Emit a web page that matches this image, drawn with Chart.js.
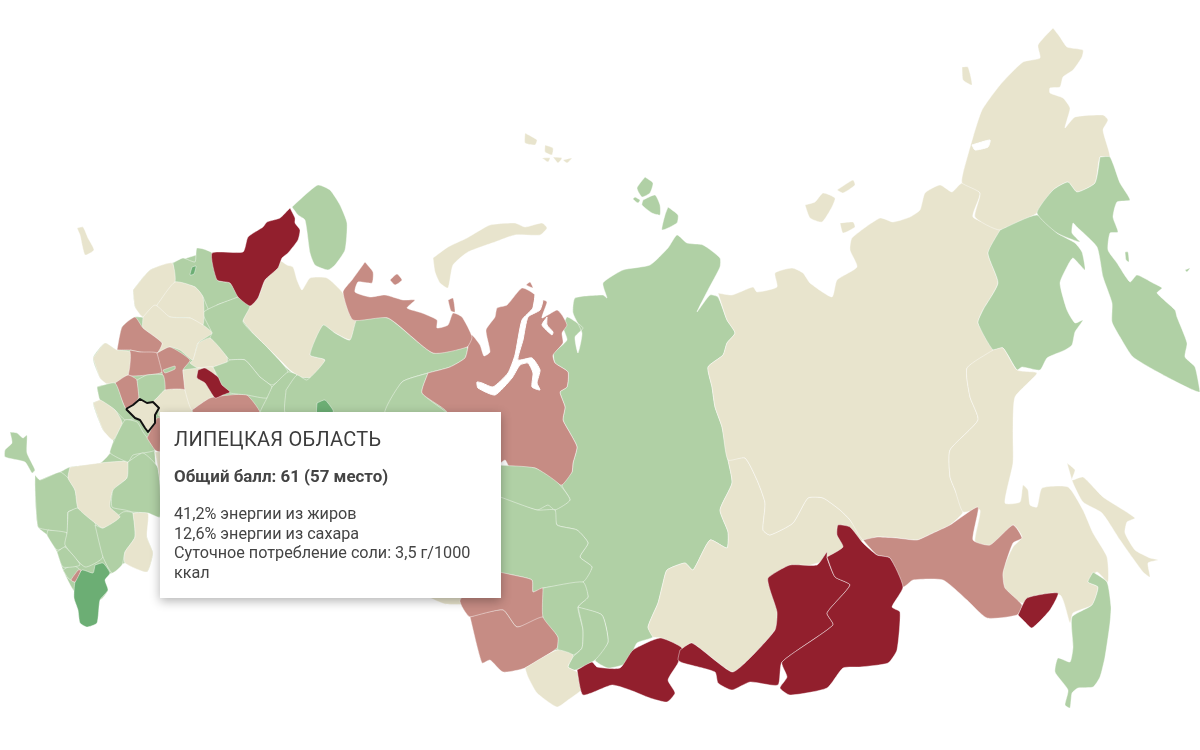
<!DOCTYPE html>
<html lang="ru"><head><meta charset="utf-8">
<script src="https://cdn.jsdelivr.net/npm/chart.js@4"></script>
<style>
html,body{margin:0;padding:0;background:#fff;width:1200px;height:750px;overflow:hidden;font-family:Roboto,sans-serif}
#wrap{position:relative;width:1200px;height:750px}
canvas{position:absolute;left:0;top:0}
#tip{position:absolute;left:160px;top:412px;width:341px;height:186px;box-sizing:border-box;background:#fff;padding:15px 14px;color:#444;box-shadow:0 3px 10px rgba(0,0,0,.3)}
#tip h3{margin:0;font-size:20px;line-height:24px;font-weight:400;color:#3c3c3c;letter-spacing:.25px}
#tip b{display:block;margin-top:15px;font-size:16.9px;line-height:20px;font-weight:700}
#tip p{margin:18px 0 0;font-size:16.2px;line-height:19.6px}
</style></head><body>
<div id="wrap"><canvas id="c" width="1200" height="750"></canvas>
<div id="tip"><h3>ЛИПЕЦКАЯ ОБЛАСТЬ</h3><b>Общий балл: 61 (57 место)</b><p>41,2% энергии из жиров<br>12,6% энергии из сахара<br>Суточное потребление соли: 3,5 г/1000 ккал</p></div></div>
<script>
// Region outlines, in map units
const westUnder=[[133,290],[150,270],[172,263],[212,253],[250,306],[243,320],[300,377],[350,340],[358,317],[388,318],[433,353],[467,347],[470,420],[160,420],[160,517],[148,513],[147,537],[153,553],[147,572],[125,563],[112,573],[103,577],[108,590],[100,600],[75,592],[63,570],[57,552],[47,535],[38,527],[35,487],[40,480],[60,472],[70,467],[100,463],[110,453],[113,440],[103,430],[93,403],[100,400],[97,387],[107,384],[100,378],[93,358],[105,343],[117,350],[122,327],[135,317],[143,317],[135,307]];
const siberiaUnder=[[495,465],[572,472],[592,567],[608,642],[595,660],[575,670],[558,650],[525,664],[495,655],[485,620],[495,590]];
const kaliningrad=[[77,228],[83,227],[88,238],[94,250],[85,255],[80,235]];
const crimea=[[10,432],[17,433],[23,438],[27,435],[27,453],[35,470],[32,473],[25,462],[5,457],[5,450],[12,443]];
const kola=[[292,207],[305,195],[318,185],[330,190],[340,205],[347,223],[345,250],[335,265],[328,270],[315,265],[310,253],[305,220],[298,215]];
const karelia=[[290,208],[295,218],[295,223],[300,230],[298,240],[288,253],[282,258],[278,268],[265,280],[258,298],[250,306],[238,297],[230,283],[217,280],[212,253],[243,252],[248,237],[263,227],[267,222],[280,218]];
const arkhangelsk=[[250,306],[258,298],[265,280],[277,267],[279,260],[287,265],[293,267],[297,280],[302,290],[310,278],[327,278],[343,293],[347,305],[358,317],[353,333],[350,340],[335,333],[323,325],[320,340],[310,355],[325,360],[313,377],[300,377],[290,370],[283,363],[267,347],[253,333],[243,320]];
const nwGreenA=[[173,263],[183,258],[195,262],[197,248],[212,253],[217,280],[230,283],[238,297],[217,305],[210,312],[203,297],[195,287],[175,282]];
const nwGreenB=[[238,297],[250,306],[243,322],[267,347],[288,372],[272,385],[260,377],[245,360],[230,360],[227,357],[210,338],[212,333],[203,313],[217,305]];
const nwLake=[[192,267],[196,266],[194,274],[190,275]];
const westBeigeA=[[133,290],[150,270],[172,263],[175,282],[157,305],[143,317],[135,307]];
const westBeigeB=[[157,305],[175,282],[195,287],[203,297],[203,325],[190,318],[170,317],[157,310]];
const westBeigeC=[[143,317],[155,305],[170,317],[190,318],[203,325],[212,333],[198,343],[193,360],[180,350],[170,347],[157,353],[162,343],[143,328]];
const westBeigeD=[[198,343],[210,338],[227,357],[227,362],[213,367],[198,368],[190,363],[193,360]];
const pinkA=[[117,350],[122,327],[135,317],[143,328],[162,343],[157,353],[140,352],[130,350]];
const pinkB=[[130,350],[140,352],[157,353],[162,372],[147,375],[128,375]];
const pinkC=[[157,353],[170,347],[190,360],[183,370],[185,390],[165,390],[162,372]];
const moscowGreen=[[163,370],[175,366],[175,369],[165,373]];
const smolensk=[[93,358],[105,343],[117,350],[130,352],[128,375],[115,383],[107,384],[100,378]];
const pinkD=[[115,383],[128,375],[137,380],[139,397],[133,405],[126,409],[123,403]];
const greenC=[[137,380],[147,375],[163,375],[165,390],[157,398],[153,402],[147,403],[140,399],[139,397]];
const greenLeft=[[97,387],[115,383],[123,403],[126,409],[135,418],[125,420],[115,410],[100,400]];
const beigeLeft=[[93,403],[100,400],[115,410],[122,423],[113,440],[103,430]];
const beigeCentre=[[157,398],[165,390],[185,390],[192,412],[190,416],[159,416],[159,408],[153,402]];
const beigeVolga=[[183,370],[198,368],[213,367],[217,378],[223,395],[210,398],[192,410],[185,390]];
const tatarstan=[[198,370],[205,368],[218,377],[222,385],[230,392],[223,395],[215,398],[205,383],[197,378]];
const pinkE=[[192,410],[210,398],[230,395],[247,395],[260,414],[195,416]];
const greenD=[[213,367],[227,362],[230,360],[245,360],[260,377],[272,387],[267,398],[247,395],[230,393],[223,388],[217,375]];
const greenE=[[272,387],[288,372],[297,375],[287,390],[287,414],[260,414],[267,398]];
const komi=[[286,390],[297,375],[307,380],[325,360],[310,355],[323,325],[335,333],[350,340],[358,317],[388,318],[433,353],[467,347],[465,358],[450,367],[428,373],[402,382],[385,414],[286,414]];
const komiSouth=[[428,373],[422,393],[447,414],[385,414],[402,382]];
const darkPatch=[[317,403],[325,400],[333,410],[333,414],[317,414]];
const nenets=[[365,262],[373,272],[372,283],[358,282],[355,292],[370,297],[385,295],[403,300],[415,300],[407,308],[422,313],[437,320],[437,328],[448,325],[453,313],[462,317],[472,337],[467,347],[433,353],[388,318],[353,320],[343,292],[352,280]];
const nenetsIsle=[[390,280],[397,274],[402,280],[395,285]];
const vaygach=[[448,300],[453,298],[455,312],[451,311]];
const yamal=[[428,373],[450,367],[465,358],[468,347],[468,337],[472,335],[480,345],[484,356],[490,352],[486,330],[495,317],[497,308],[507,305],[522,288],[535,295],[533,308],[543,300],[547,302],[542,318],[557,310],[562,315],[567,325],[562,333],[563,343],[553,355],[555,363],[568,372],[567,387],[560,392],[565,407],[563,420],[570,433],[577,447],[573,463],[572,472],[562,485],[555,482],[543,473],[535,468],[510,468],[505,460],[490,470],[440,430],[447,412],[422,393]];
const yamalIsle=[[526,285],[530,282],[533,288]];
const obGulf=[[535,295],[543,298],[540,310],[528,317],[523,340],[518,360],[532,358],[540,370],[537,383],[540,390],[532,387],[533,373],[528,363],[520,365],[512,378],[495,395],[478,388],[477,382],[482,383],[493,387],[508,373],[515,355],[522,320],[533,308]];
const tazInlet=[[547,317],[542,325],[552,335],[553,332],[547,325]];
const novayaZemlya=[[433,258],[448,247],[467,238],[490,225],[515,223],[525,227],[542,223],[547,228],[540,235],[515,235],[495,242],[468,252],[453,265],[448,288],[440,283],[435,272]];
const franzJosefA=[[525,133],[537,140],[535,145],[525,143]];
const franzJosefB=[[545,145],[553,148],[552,155],[545,152]];
const franzJosefC=[[542,158],[550,158],[548,162]];
const franzJosefD=[[553,157],[562,158],[558,163]];
const franzJosefE=[[563,160],[572,158],[567,163]];
const severnayaA=[[645,177],[653,183],[650,193],[642,197],[637,188]];
const severnayaB=[[643,200],[655,195],[660,205],[660,215],[652,213],[642,205]];
const severnayaC=[[668,207],[678,215],[677,223],[662,230],[665,215]];
const severnayaD=[[635,197],[640,200],[638,203],[633,199]];
const krasnoyarsk=[[553,353],[567,340],[563,327],[567,317],[573,320],[583,328],[575,337],[578,353],[582,333],[573,313],[575,298],[603,295],[607,298],[603,283],[623,270],[650,265],[668,248],[677,235],[687,243],[703,245],[720,258],[720,267],[708,290],[697,312],[710,295],[718,297],[727,320],[735,333],[727,343],[723,355],[708,367],[712,387],[715,407],[722,427],[728,460],[732,483],[720,510],[728,532],[727,548],[710,540],[693,570],[685,563],[667,570],[663,583],[658,603],[648,627],[653,637],[637,643],[627,663],[608,668],[595,660],[608,642],[602,615],[578,607],[588,597],[583,582],[592,567],[580,557],[588,543],[577,530],[557,525],[555,510],[570,500],[562,485],[572,472],[573,463],[577,447],[570,433],[563,420],[565,407],[560,392],[567,387],[568,372],[555,363]];
const tomsk=[[495,465],[535,468],[558,483],[570,500],[555,510],[548,505],[537,510],[495,495]];
const novosibirsk=[[495,495],[537,510],[555,510],[557,525],[577,530],[588,543],[580,557],[592,567],[583,582],[543,588],[533,592],[532,580],[513,575],[490,570]];
const omskPink=[[490,570],[513,575],[532,580],[533,592],[543,588],[543,617],[517,627],[503,610],[470,617],[460,600]];
const altaiPink=[[470,617],[482,663],[490,660],[503,672],[525,668],[557,648],[558,637],[543,617],[517,627],[503,610]];
const altaiGreen=[[543,588],[583,582],[588,597],[578,607],[583,630],[582,648],[573,655],[558,650],[558,637],[543,617]];
const tuvaGreen=[[578,607],[602,615],[608,642],[595,660],[575,670],[568,667],[573,657],[582,648],[583,630]];
const kazakhBeige=[[525,668],[557,650],[573,655],[568,667],[577,672],[583,688],[568,700],[557,707],[537,693],[528,677]];
const sliverBeige=[[428,597],[462,597],[468,604],[445,604]];
const tuva=[[577,670],[592,662],[597,667],[620,668],[633,650],[660,638],[682,648],[678,663],[668,680],[675,693],[667,702],[650,698],[630,690],[612,685],[583,695]];
const irkutskBeige=[[728,460],[745,458],[757,480],[765,503],[763,530],[770,535],[793,523],[808,498],[823,498],[840,510],[850,520],[863,540],[850,545],[827,560],[800,570],[775,630],[750,658],[732,672],[692,643],[680,650],[660,638],[653,637],[648,627],[658,603],[663,583],[667,570],[685,563],[693,570],[710,540],[727,548],[728,532],[720,510],[732,483]];
const buryatiaWest=[[680,650],[692,643],[732,672],[750,658],[775,630],[777,612],[770,590],[768,578],[790,565],[817,565],[827,552],[827,558],[835,577],[850,585],[827,613],[833,625],[782,662],[778,685],[750,682],[732,690],[718,683],[715,672],[683,663],[678,660]];
const buryatiaEast=[[827,557],[843,547],[837,535],[838,525],[850,527],[863,543],[877,555],[890,558],[903,587],[892,607],[900,612],[897,650],[888,663],[860,667],[843,668],[827,688],[790,695],[780,688],[787,677],[782,662],[833,625],[827,613],[850,585],[835,577]];
const zabaykalye=[[863,540],[877,537],[897,538],[917,540],[933,533],[950,525],[978,507],[973,540],[990,545],[1013,525],[1022,538],[1013,543],[1003,573],[1005,588],[1022,605],[1017,615],[987,618],[967,600],[943,580],[913,580],[903,587],[890,558],[877,555]];
const birobidzhan=[[1018,615],[1027,598],[1058,593],[1050,610],[1032,628],[1025,622]];
const yakutia=[[718,293],[732,295],[753,287],[757,292],[777,287],[775,273],[792,268],[803,273],[810,283],[832,297],[837,280],[857,267],[850,250],[852,238],[880,218],[893,222],[910,217],[920,210],[925,193],[940,185],[952,192],[962,183],[980,193],[973,217],[1000,230],[988,253],[998,283],[983,310],[978,323],[993,350],[967,368],[970,397],[978,420],[950,450],[950,477],[955,490],[963,512],[950,525],[933,533],[917,540],[897,538],[877,537],[863,540],[850,520],[840,510],[823,498],[808,498],[793,523],[770,535],[763,530],[765,503],[757,480],[745,458],[728,460],[722,427],[715,407],[712,387],[708,367],[723,355],[727,343],[735,333],[727,320]];
const newSiberianA=[[805,205],[815,202],[823,193],[835,198],[832,207],[822,222],[810,218]];
const newSiberianB=[[837,190],[853,180],[855,185],[843,193]];
const newSiberianC=[[840,223],[853,222],[855,227],[843,233]];
const chukotka=[[1053,28],[1060,37],[1067,47],[1083,50],[1082,57],[1073,70],[1063,77],[1060,87],[1050,88],[1050,93],[1063,98],[1070,108],[1067,120],[1065,128],[1075,117],[1103,115],[1108,120],[1103,130],[1110,157],[1100,157],[1095,183],[1077,192],[1068,182],[1053,190],[1037,213],[1000,230],[975,217],[980,193],[962,183],[963,173],[973,137],[982,110],[1000,85],[1023,62],[1040,58],[1038,45]];
const wrangel=[[962,67],[968,67],[972,85],[963,80]];
const chaunBay=[[972,145],[990,140],[988,147],[975,150]];
const kamchatka=[[1100,157],[1110,157],[1120,183],[1130,200],[1117,202],[1113,217],[1118,232],[1110,233],[1108,250],[1117,263],[1130,282],[1137,275],[1153,283],[1162,288],[1157,293],[1175,310],[1177,317],[1187,343],[1185,357],[1195,367],[1200,392],[1167,377],[1133,357],[1120,337],[1112,322],[1112,303],[1103,277],[1097,247],[1077,227],[1073,223],[1072,233],[1080,242],[1057,233],[1037,213],[1053,190],[1068,182],[1077,192],[1095,183]];
const magadan=[[1000,230],[1037,215],[1057,233],[1075,243],[1082,252],[1085,270],[1073,258],[1068,265],[1060,283],[1067,310],[1075,323],[1083,320],[1075,332],[1072,345],[1065,350],[1047,358],[1040,370],[1022,367],[1017,370],[1003,348],[993,350],[978,323],[983,310],[998,283],[988,253]];
const karaginsky=[[1125,252],[1128,252],[1129,262],[1126,260]];
const kuril=[[1185,270],[1190,268],[1187,272]];
const khabarovsk=[[993,350],[1003,348],[1017,370],[1037,373],[1015,397],[1013,433],[1013,463],[1005,503],[1020,502],[1023,485],[1028,490],[1030,505],[1037,507],[1042,488],[1068,487],[1083,510],[1093,533],[1107,557],[1108,582],[1097,572],[1088,582],[1098,587],[1092,605],[1073,613],[1070,623],[1060,595],[1022,603],[1005,590],[1002,572],[1013,547],[1022,537],[1013,525],[990,547],[975,542],[980,510],[963,512],[955,490],[950,477],[950,450],[978,420],[970,397],[967,368]];
const sakhalin=[[1067,463],[1075,470],[1072,480],[1083,477],[1103,497],[1135,518],[1127,522],[1125,533],[1135,550],[1150,558],[1158,560],[1148,563],[1150,577],[1143,572],[1120,540],[1102,513],[1083,502],[1073,483]];
const primorye=[[1093,572],[1107,582],[1111,607],[1110,623],[1105,657],[1100,677],[1093,687],[1078,688],[1072,693],[1070,708],[1065,705],[1068,690],[1055,672],[1058,658],[1070,662],[1073,647],[1072,617],[1092,605],[1098,587],[1088,582]];
const rostov=[[35,475],[40,480],[60,472],[68,478],[75,490],[78,508],[68,512],[67,533],[48,530],[38,527],[35,487]];
const southA=[[48,530],[67,533],[65,547],[57,550],[47,535]];
const southB=[[68,512],[78,508],[95,523],[103,557],[85,567],[65,545],[67,533]];
const southC=[[95,525],[103,528],[123,512],[133,513],[135,537],[125,552],[122,565],[112,573],[103,557]];
const southBeige=[[133,513],[148,513],[147,537],[153,553],[147,572],[125,563],[125,552],[135,537]];
const midBeige=[[70,467],[100,463],[128,462],[127,478],[113,490],[110,507],[120,517],[103,528],[95,523],[78,508],[75,490],[68,478]];
const midGreenA=[[112,445],[125,420],[137,422],[143,432],[155,450],[133,455],[128,462],[110,453]];
const midGreenB=[[128,462],[143,453],[158,468],[160,517],[148,513],[133,512],[125,510],[112,507],[113,490],[127,478]];
const midPink=[[147,438],[157,418],[160,418],[160,452],[155,450]];
const midBeigeRight=[[155,452],[160,452],[160,480],[158,468]];
const caucasusDark=[[95,565],[103,563],[110,573],[105,580],[108,590],[100,600],[97,623],[87,627],[80,623],[78,610],[74,598],[75,582],[82,570],[93,573]];
const caucasusGreenA=[[63,570],[72,565],[80,570],[75,582],[68,578]];
const caucasusGreenB=[[57,552],[65,547],[80,565],[63,567]];
const caucasusPink=[[78,570],[81,570],[75,582],[71,580]];
const lipetsk=[[126,409],[133,405],[140,399],[147,403],[153,402],[159,408],[155,415],[155,423],[148,432],[145,428],[140,420],[135,418]];

const GREEN='#b0d0a5',BEIGE='#e8e4cd',PINK='#c68c84',RED='#921f2d',DARK='#6cae74',WHITE='#ffffff';
const EDGE='rgba(255,255,255,.42)';
const layers=[
 [westUnder,GREEN],[siberiaUnder,GREEN],
 [kaliningrad,BEIGE],[crimea,GREEN],[kola,GREEN],[arkhangelsk,BEIGE],[nwGreenA,GREEN],[nwGreenB,GREEN],[nwLake,DARK],[karelia,RED],
 [westBeigeA,BEIGE],[westBeigeB,BEIGE],[westBeigeC,BEIGE],[westBeigeD,BEIGE],[pinkA,PINK],[pinkB,PINK],[pinkC,PINK],[moscowGreen,GREEN],
 [smolensk,BEIGE],[pinkD,PINK],[greenC,GREEN],[greenLeft,GREEN],[beigeLeft,BEIGE],[beigeCentre,BEIGE],[beigeVolga,BEIGE],[pinkE,PINK],[greenD,GREEN],[tatarstan,RED],[greenE,GREEN],
 [komi,GREEN],[komiSouth,GREEN],[darkPatch,DARK],[krasnoyarsk,GREEN],[yamal,PINK],[obGulf,WHITE],[tazInlet,WHITE],[nenets,PINK],[nenetsIsle,PINK],[vaygach,PINK],[yamalIsle,PINK],
 [novayaZemlya,BEIGE],[franzJosefA,BEIGE],[franzJosefB,BEIGE],[franzJosefC,BEIGE],[franzJosefD,BEIGE],[franzJosefE,BEIGE],[severnayaA,GREEN],[severnayaB,GREEN],[severnayaC,GREEN],[severnayaD,GREEN],
 [tomsk,GREEN],[novosibirsk,GREEN],[sliverBeige,BEIGE],[omskPink,PINK],[altaiPink,PINK],[altaiGreen,GREEN],[tuvaGreen,GREEN],[kazakhBeige,BEIGE],
 [irkutskBeige,BEIGE],[yakutia,BEIGE],[newSiberianA,BEIGE],[newSiberianB,BEIGE],[newSiberianC,BEIGE],[chukotka,BEIGE],[wrangel,BEIGE],[chaunBay,WHITE],[magadan,GREEN],[kamchatka,GREEN],[karaginsky,GREEN],[kuril,GREEN],
 [khabarovsk,BEIGE],[sakhalin,BEIGE],[primorye,GREEN],[tuva,RED],[zabaykalye,PINK],[buryatiaWest,RED],[buryatiaEast,RED],[birobidzhan,RED],
 [rostov,GREEN],[southA,GREEN],[southB,GREEN],[southC,GREEN],[southBeige,BEIGE],[midBeige,BEIGE],[midGreenA,GREEN],[midGreenB,GREEN],[midPink,PINK],[midBeigeRight,BEIGE],
 [caucasusGreenA,GREEN],[caucasusGreenB,GREEN],[caucasusDark,DARK],[caucasusPink,PINK]
];
const closed=p=>p.concat([p[0]]).map(([x,y])=>({x,y}));
const datasets=layers.map(([p,col])=>({data:closed(p),backgroundColor:col,borderColor:col===WHITE?WHITE:EDGE,borderWidth:1,fill:'shape',pointRadius:0,tension:.18,borderJoinStyle:'round'}));
datasets.push({data:closed(lipetsk),backgroundColor:BEIGE,borderColor:'#111',borderWidth:2,fill:'shape',pointRadius:0,tension:0,borderJoinStyle:'round'});
new Chart(document.getElementById('c'),{type:'line',data:{datasets:datasets.reverse()},
 options:{responsive:false,animation:false,events:[],devicePixelRatio:1,layout:{padding:0},
  plugins:{legend:{display:false},tooltip:{enabled:false},title:{display:false}},
  scales:{x:{type:'linear',min:0,max:1200,display:false},y:{type:'linear',min:0,max:750,reverse:true,display:false}}}});
</script></body></html>
